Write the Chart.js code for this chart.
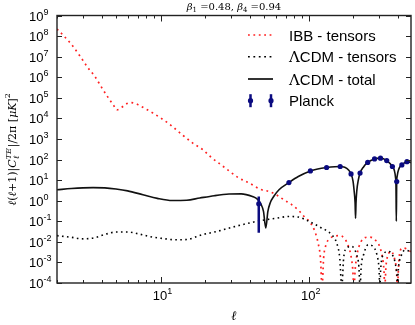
<!DOCTYPE html>
<html>
<head>
<meta charset="utf-8">
<script src="https://cdn.jsdelivr.net/npm/chart.js@4.4.1/dist/chart.umd.min.js"></script>
<style>
  html, body { margin: 0; padding: 0; background: #fff; }
  canvas { display: block; }
</style>
</head>
<body>
<canvas id="c" width="415" height="325"></canvas>
<script>
// ---- DATA ----
// IBB - tensors (red dotted)
const ellIBB = [2, 2.2, 2.5, 2.85, 3.2, 3.6, 4.0, 4.46, 4.8, 5.07, 5.4, 5.8, 6.25, 6.8, 7.3, 8.0, 8.9, 10.1, 11.2, 12.3,
  14, 16.5, 19.3, 22, 25, 29, 33, 40, 47, 54, 60, 68, 77, 86, 95, 102, 110, 116, 120, 123, 126, 130, 140, 150,
  162, 175, 185, 193, 198, 202, 206, 212, 225, 240, 258, 280, 300, 315, 322, 326, 332, 345, 360, 375, 390, 398,
  402, 410, 430, 460, 490];
const ibbTensors = [2.2e8, 1.1e8, 4e7, 1.1e7, 3.2e6, 1.1e6, 3.2e5, 9.5e4, 4.5e4, 2.6e4, 3.2e4, 4.8e4, 5.9e4, 5.2e4, 4e4, 2.8e4, 1.8e4, 1e4, 6e3, 3.5e3,
  1.6e3, 630, 300, 126, 63, 28, 14, 7, 3.6, 2.8, 2, 1.1, 0.63, 0.32, 0.145, 0.09, 0.032, 0.008, 0.0016, 6e-5, 0.0016, 0.0063, 0.015, 0.019,
  0.02, 0.014, 0.0063, 0.002, 5e-4, 6e-5, 5e-4, 0.0025, 0.01, 0.016, 0.017, 0.0126, 0.0063, 0.0016, 4e-4, 6e-5, 6.3e-4, 0.0025, 0.0035, 0.002, 5e-4, 6e-5,
  3.2e-4, 0.0025, 0.005, 0.0045, 0.0032];

// LCDM - tensors (black dotted)
const ellLcdmT = [2, 2.5, 3, 3.6, 4.3, 5, 6, 7, 8.5, 10, 12.8, 15, 19, 24, 30, 39, 48, 60, 73, 85, 100, 120, 143, 155,
  162, 167, 172, 180, 195, 210, 218, 222, 226, 235, 252, 270, 290, 298, 302, 306, 320, 343, 365, 385, 393, 397, 401,
  420, 450, 490];
const lcdmTensors = [0.02, 0.0166, 0.014, 0.016, 0.024, 0.03, 0.03, 0.025, 0.018, 0.015, 0.0126, 0.013, 0.022, 0.032, 0.05, 0.08, 0.11, 0.14, 0.17, 0.16, 0.1, 0.05, 0.022, 0.008,
  0.0016, 6e-5, 0.0016, 0.005, 0.006, 0.0025, 6.3e-4, 6e-5, 6.3e-4, 0.0025, 0.0072, 0.0063, 0.002, 5e-4, 6e-5, 5e-4, 0.0025, 0.0034, 0.0025, 8e-4, 2.5e-4, 6e-5, 3.2e-4,
  0.002, 0.004, 0.0032];

// LCDM - total (black solid)
const ellTotal = [2, 2.5, 3, 3.5, 4.2, 5, 6, 7.6, 9.5, 12, 15, 18.4, 23, 29, 35, 41.7, 45, 47.5, 49.5, 51.3, 53, 55, 58, 63,
  73.5, 85, 102.6, 115, 132, 150, 163, 175, 185, 193, 199, 203, 205.5, 207, 208.5, 211, 216, 222, 235, 250, 278, 305,
  336, 367, 378, 385, 388, 390, 392.5, 395, 400, 410, 425, 460, 490];
const lcdmTotal = [3.4, 3.9, 4.2, 4.3, 4.2, 3.7, 3.0, 1.95, 1.3, 1.02, 1.05, 1.35, 1.75, 2.1, 2.15, 1.6, 1.2, 0.7, 0.3, 0.047, 0.3, 0.8, 1.6, 3.4,
  7.6, 15, 28, 35, 41, 45, 46, 42, 32, 20, 9, 2.5, 0.8, 0.14, 0.8, 3, 10, 22, 45, 72, 107, 117,
  89, 46, 30, 14, 5, 0.1, 8.5, 15, 25, 42, 55, 79, 72];

// Planck points
const planckEll = [46, 73.5, 102.6, 132, 163, 193, 222, 250, 278, 305, 336, 367, 392.5, 425, 460];
const planckVal = [0.71, 7.6, 28, 41, 46, 20, 22, 72, 107, 117, 89, 46, 8.5, 55, 79];
const planckLo  = [0.028, 6.8, 26, 39, 44, 18.5, 20.5, 68, 102, 111, 84, 43, 7.6, 51, 74];
const planckHi  = [1.6, 8.4, 30, 43, 48, 21.5, 23.5, 76, 112, 123, 94, 49, 9.4, 59, 84];

// axis ticks
const yExponents = [-4, -3, -2, -1, 0, 1, 2, 3, 4, 5, 6, 7, 8, 9];
const xMajor = [10, 100];
const xMinor = [2, 3, 4, 5, 6, 7, 8, 9, 20, 30, 40, 50, 60, 70, 80, 90, 200, 300, 400];

const SANS = "'Liberation Sans', Arial, sans-serif";
const SERIF = "'DejaVu Serif', 'Liberation Serif', serif";
const NAVY = '#0b0b80';
const RED = '#ff2020';

const toXY = (xs, ys) => xs.map((v, i) => ({ x: v, y: ys[i] }));

// ---- RICH TEXT HELPER ----
// parts: { t, font, dy, w (optional advance override) }
function richText(ctx, parts, x, y, align) {
  let total = 0;
  parts.forEach(p => {
    ctx.font = p.font;
    p.mw = ctx.measureText(p.t).width;
    p.adv = p.w != null ? p.w : p.mw;
    total += p.adv;
  });
  let cx = align === 'center' ? x - total / 2 : align === 'right' ? x - total : x;
  parts.forEach(p => {
    ctx.font = p.font;
    ctx.fillText(p.t, cx, y + (p.dy || 0));
    cx += p.adv;
  });
}

function errBar(ctx, x, y1, y2) {
  ctx.save();
  ctx.strokeStyle = NAVY;
  ctx.lineWidth = 2.5;
  ctx.beginPath();
  ctx.moveTo(x, y1);
  ctx.lineTo(x, y2);
  ctx.stroke();
  ctx.restore();
}

// ---- DECORATIONS PLUGIN ----
const decorations = {
  id: 'decorations',
  afterDatasetsDraw(chart) {
    const { ctx, chartArea: a, scales: { x, y } } = chart;
    // error bars
    ctx.save();
    ctx.beginPath();
    ctx.rect(a.left, a.top, a.right - a.left, a.bottom - a.top);
    ctx.clip();
    planckEll.forEach((l, i) => {
      errBar(ctx, x.getPixelForValue(l), y.getPixelForValue(planckLo[i]), y.getPixelForValue(planckHi[i]));
    });
    ctx.restore();
  },
  afterDraw(chart) {
    const { ctx, chartArea: a, scales: { x, y } } = chart;
    ctx.save();
    ctx.fillStyle = '#000';
    ctx.strokeStyle = '#222';

    // frame
    ctx.lineWidth = 1.4;
    ctx.strokeRect(a.left, a.top, a.right - a.left, a.bottom - a.top);

    // ticks
    ctx.lineWidth = 1;
    ctx.beginPath();
    yExponents.forEach(e => {
      const py = Math.round(y.getPixelForValue(Math.pow(10, e))) + 0.5;
      ctx.moveTo(a.left, py); ctx.lineTo(a.left + 5, py);
      ctx.moveTo(a.right, py); ctx.lineTo(a.right - 5, py);
    });
    xMajor.forEach(v => {
      const px = Math.round(x.getPixelForValue(v)) + 0.5;
      ctx.moveTo(px, a.bottom); ctx.lineTo(px, a.bottom - 6);
      ctx.moveTo(px, a.top); ctx.lineTo(px, a.top + 6);
    });
    xMinor.forEach(v => {
      const px = Math.round(x.getPixelForValue(v)) + 0.5;
      ctx.moveTo(px, a.bottom); ctx.lineTo(px, a.bottom - 3);
      ctx.moveTo(px, a.top); ctx.lineTo(px, a.top + 3);
    });
    ctx.stroke();

    // y tick labels
    ctx.textBaseline = 'alphabetic';
    yExponents.forEach(e => {
      const py = y.getPixelForValue(Math.pow(10, e));
      richText(ctx, [
        { t: '10', font: `13px ${SANS}` },
        { t: String(e), font: `9px ${SANS}`, dy: -6 }
      ], 29, py + 5, 'left');
    });

    // x tick labels
    xMajor.forEach((v, i) => {
      const px = x.getPixelForValue(v);
      richText(ctx, [
        { t: '10', font: `13px ${SANS}` },
        { t: String(i + 1), font: `9px ${SANS}`, dy: -6 }
      ], px + 2, 300, 'center');
    });

    // x title
    richText(ctx, [{ t: 'ℓ', font: `italic 13px ${SERIF}` }], (a.left + a.right) / 2, 320, 'center');

    // title
    richText(ctx, [
      { t: 'β', font: `italic 10px ${SERIF}` },
      { t: '1', font: `7px ${SERIF}`, dy: 2 },
      { t: ' =0.48, ', font: `10px ${SERIF}` },
      { t: 'β', font: `italic 10px ${SERIF}` },
      { t: '4', font: `7px ${SERIF}`, dy: 2 },
      { t: ' =0.94', font: `10px ${SERIF}` }
    ], (a.left + a.right) / 2, 10, 'center');

    // y title (rotated)
    ctx.save();
    ctx.translate(16, (a.top + a.bottom) / 2);
    ctx.rotate(-Math.PI / 2);
    const f = `11px ${SERIF}`, fi = `italic 11px ${SERIF}`, fs = `8px ${SERIF}`, fsi = `italic 8px ${SERIF}`;
    richText(ctx, [
      { t: 'ℓ', font: fi },
      { t: '(', font: f },
      { t: 'ℓ', font: fi },
      { t: '+1)|', font: f },
      { t: 'C', font: fi },
      { t: 'TE', font: fsi, dy: -5, w: 0 },
      { t: 'ℓ', font: fsi, dy: 3, w: 12 },
      { t: '|/2π [', font: f },
      { t: 'μK', font: fi },
      { t: ']', font: f },
      { t: '2', font: fs, dy: -6 }
    ], 0, 0, 'center');
    ctx.restore();

    // legend
    const lx1 = 248, lx2 = 273, tx = 289;
    const rows = [35, 56.7, 79, 100.7];
    ctx.lineWidth = 1.6;
    ctx.strokeStyle = RED;
    ctx.setLineDash([1.8, 3.6]);
    ctx.beginPath(); ctx.moveTo(lx1, rows[0]); ctx.lineTo(lx2, rows[0]); ctx.stroke();
    ctx.strokeStyle = '#000';
    ctx.beginPath(); ctx.moveTo(lx1, rows[1]); ctx.lineTo(lx2, rows[1]); ctx.stroke();
    ctx.setLineDash([]);
    ctx.lineWidth = 1.6;
    ctx.beginPath(); ctx.moveTo(lx1, rows[2]); ctx.lineTo(lx2, rows[2]); ctx.stroke();
    [lx1 + 2.5, lx2 - 2].forEach(px => {
      errBar(ctx, px, rows[3] - 6.5, rows[3] + 6.5);
      ctx.fillStyle = NAVY;
      ctx.beginPath(); ctx.arc(px, rows[3], 2.6, 0, Math.PI * 2); ctx.fill();
    });
    ctx.fillStyle = '#000';
    const lf = `15px ${SANS}`, lg = `15px ${SERIF}`;
    richText(ctx, [{ t: 'IBB - tensors', font: lf }], tx, rows[0] + 5.5, 'left');
    richText(ctx, [{ t: 'Λ', font: lg }, { t: 'CDM - tensors', font: lf }], tx, rows[1] + 5.5, 'left');
    richText(ctx, [{ t: 'Λ', font: lg }, { t: 'CDM - total', font: lf }], tx, rows[2] + 5.5, 'left');
    richText(ctx, [{ t: 'Planck', font: lf }], tx, rows[3] + 5.5, 'left');

    ctx.restore();
  }
};

// ---- CHART ----
new Chart(document.getElementById('c'), {
  type: 'line',
  data: {
    datasets: [
      {
        label: 'Planck',
        data: toXY(planckEll, planckVal),
        showLine: false,
        pointRadius: 2.6,
        pointBackgroundColor: NAVY,
        pointBorderWidth: 0,
        order: 0
      },
      {
        label: 'ΛCDM - total',
        data: toXY(ellTotal, lcdmTotal),
        borderColor: '#111',
        borderWidth: 1.6,
        pointRadius: 0,
        cubicInterpolationMode: 'monotone',
        order: 1
      },
      {
        label: 'ΛCDM - tensors',
        data: toXY(ellLcdmT, lcdmTensors),
        borderColor: '#000',
        borderWidth: 1.6,
        borderDash: [1.6, 3.4],
        pointRadius: 0,
        cubicInterpolationMode: 'monotone',
        order: 2
      },
      {
        label: 'IBB - tensors',
        data: toXY(ellIBB, ibbTensors),
        borderColor: RED,
        borderWidth: 1.7,
        borderDash: [1.8, 3.8],
        pointRadius: 0,
        cubicInterpolationMode: 'monotone',
        order: 3
      }
    ]
  },
  options: {
    responsive: false,
    animation: false,
    devicePixelRatio: 1,
    layout: { padding: { left: 57, right: 3, top: 15.5, bottom: 42 } },
    plugins: { legend: { display: false }, tooltip: { enabled: false } },
    scales: {
      x: { type: 'logarithmic', min: 2, max: 490, display: false },
      y: { type: 'logarithmic', min: 1e-4, max: 1e9, display: false }
    }
  },
  plugins: [decorations]
});
</script>
</body>
</html>
